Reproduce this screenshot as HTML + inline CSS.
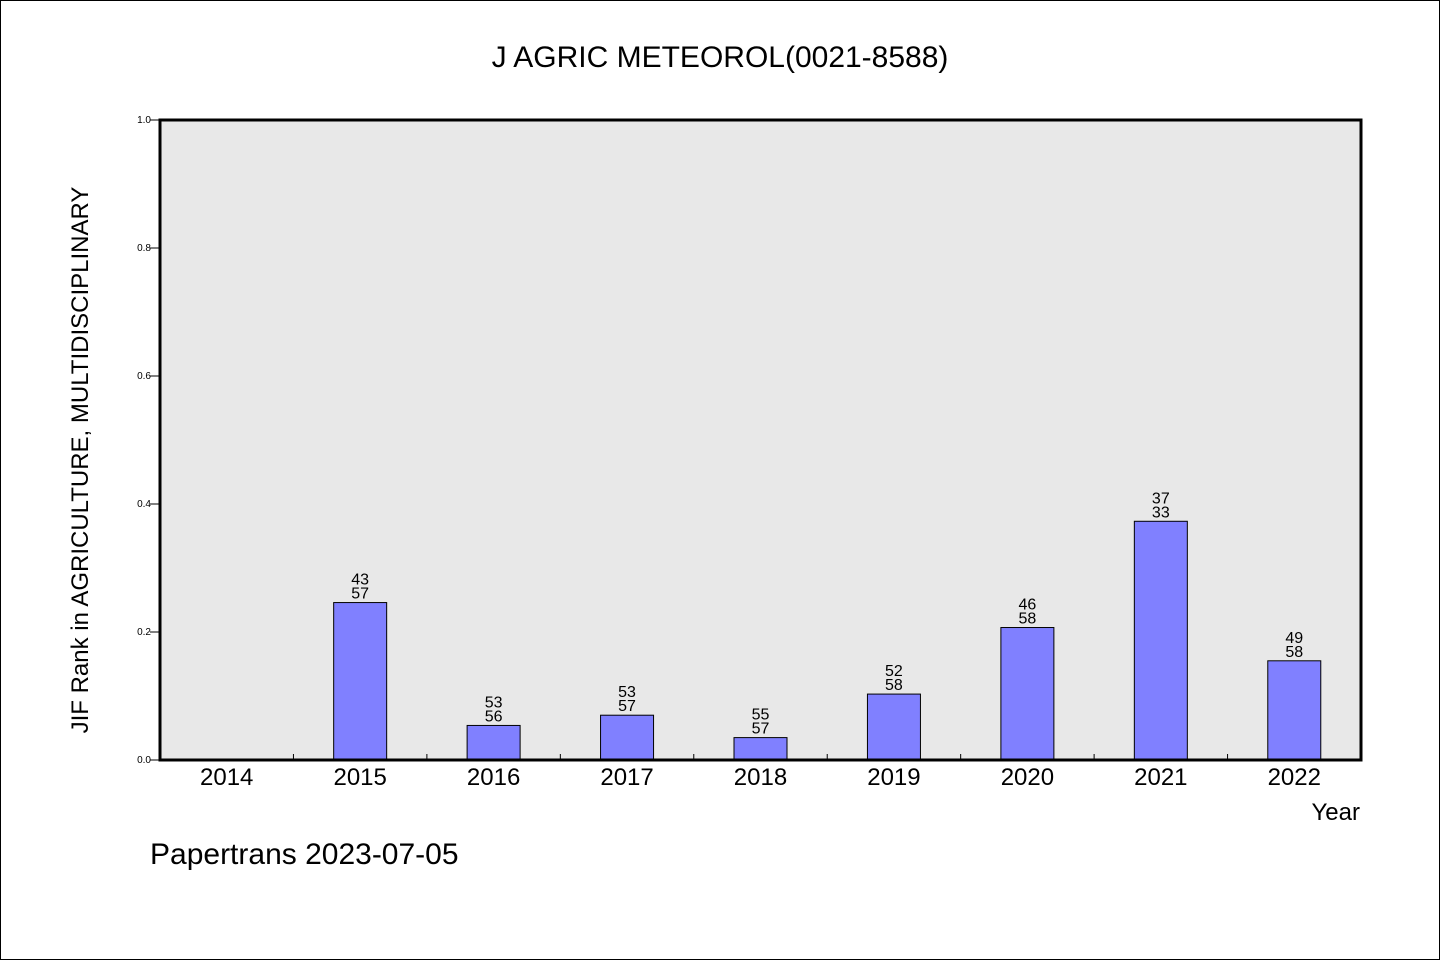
<!DOCTYPE html>
<html><head><meta charset="utf-8"><style>
html,body{margin:0;padding:0;background:#fff}
svg{display:block}
text{font-family:"WenQuanYi Zen Hei","Liberation Sans",sans-serif}
</style></head><body>
<svg id="chart" width="1440" height="960">
<rect x="0.5" y="0.5" width="1439" height="959" fill="#fff" stroke="#000"/>
<text x="720" y="67" font-size="30" text-anchor="middle">J AGRIC METEOROL(0021-8588)</text>
<rect x="160" y="120" width="1201" height="640" fill="#e8e8e8"/>
<g id="bars"></g>
<g id="yticks"></g>
<g id="xticks"></g>
<rect x="160" y="120" width="1201" height="640" fill="none" stroke="#000" stroke-width="3"/>
<text x="88" y="460" font-size="24" text-anchor="middle" transform="rotate(-90 88 460)">JIF Rank in AGRICULTURE, MULTIDISCIPLINARY</text>
<text x="1360" y="820" font-size="24" text-anchor="end">Year</text>
<text x="150" y="864" font-size="30">Papertrans 2023-07-05</text>
</svg>
<script>
const categories=["2014","2015","2016","2017","2018","2019","2020","2021","2022"];
const values=[0,0.246,0.054,0.070,0.035,0.103,0.207,0.373,0.155];
const ranks=["","43","53","53","55","52","46","37","49"];
const totals=["","57","56","57","57","58","58","33","58"];
const yTicks=[0,0.2,0.4,0.6,0.8,1.0];
const NS="http://www.w3.org/2000/svg";
const x0=160,x1=1361,y0=760,y1=120;
const step=(x1-x0)/categories.length;
const xc=i=>x0+step*(i+0.5);
const y=v=>y0-(y0-y1)*v;
function mk(tag,attrs,parent){const e=document.createElementNS(NS,tag);for(const k in attrs)e.setAttribute(k,attrs[k]);parent.appendChild(e);return e;}
const gb=document.getElementById('bars'),gy=document.getElementById('yticks'),gx=document.getElementById('xticks');
categories.forEach((c,i)=>{
  if(values[i]>0){
    const r=mk('rect',{x:xc(i)-26.5,y:y(values[i]),width:53,height:y0-y(values[i]),fill:'#8080ff',stroke:'#000','stroke-width':1},gb);
    
    
    const t1=mk('text',{x:xc(i),y:y(values[i])-18,'font-size':16,'text-anchor':'middle'},gb);t1.textContent=ranks[i];
    
    
    const t2=mk('text',{x:xc(i),y:y(values[i])-4,'font-size':16,'text-anchor':'middle'},gb);t2.textContent=totals[i];
    
    
  }
  const lt=mk('text',{x:xc(i),y:785,'font-size':24,'text-anchor':'middle'},gx);lt.textContent=c;
  
  
  if(i>0){const tk=mk('line',{x1:x0+step*i,x2:x0+step*i,y1:y0,y2:y0-6,stroke:'#000'},gx);
    
    }
});
yTicks.forEach(v=>{
  const l=mk('line',{x1:150,x2:160,y1:y(v),y2:y(v),stroke:'#000'},gy);
  
  
  const t=mk('text',{x:151,y:y(v)+3,'font-size':10,'text-anchor':'end'},gy);t.textContent=v.toFixed(1);
  
  
});
</script>
</body></html>
